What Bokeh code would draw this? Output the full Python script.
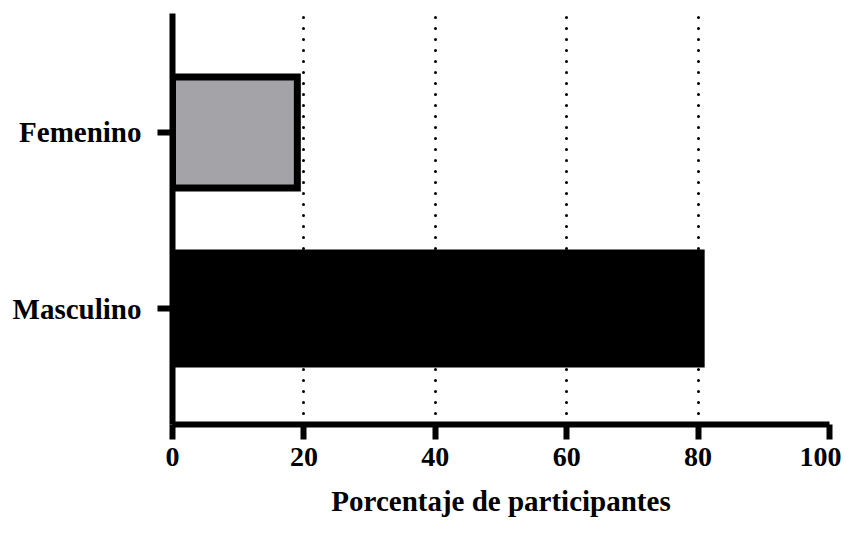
from bokeh.plotting import figure
from bokeh.models import FixedTicker, Range1d
from bokeh.embed import file_html
from bokeh.resources import INLINE

categories = ["Masculino", "Femenino"]
values = [81, 19]
x_ticks = [0, 20, 40, 60, 80, 100]
grid_ticks = [20, 40, 60, 80]
x_label = "Porcentaje de participantes"

FONT = "Liberation Serif"
W, H = 841, 520

p = figure(width=W, height=H, output_backend="svg", toolbar_location=None,
           x_range=Range1d(0, 100), y_range=Range1d(-0.659, 1.676),
           min_border_left=172, min_border_right=12, min_border_top=13,
           min_border_bottom=96)
p.outline_line_color = None
p.background_fill_color = "white"
p.border_fill_color = "white"

ypos = list(range(len(categories)))

# Masculino bar (black)
p.hbar(y=[ypos[0]], right=[values[0]], left=0, height=0.67,
       fill_color="black", line_color=None)
# Femenino bar (grey with thick black border)
p.hbar(y=[ypos[1]], right=[values[1]], left=0, height=0.63,
       fill_color="#a4a3a7", line_color="black", line_width=7,
       line_join="miter")

# grid
p.ygrid.grid_line_color = None
p.xgrid.ticker = FixedTicker(ticks=grid_ticks)
p.xgrid.grid_line_color = "black"
p.xgrid.grid_line_width = 3
p.xgrid.grid_line_dash = "0 11"
p.xgrid.grid_line_cap = "round"

for ax in (p.xaxis[0], p.yaxis[0]):
    ax.axis_line_width = 6
    ax.major_tick_line_width = 6
    ax.major_tick_out = 15
    ax.major_tick_in = 0
    ax.minor_tick_line_color = None
    ax.major_label_text_font = FONT
    ax.major_label_text_font_style = "bold"
    ax.major_label_text_color = "black"
    ax.axis_line_cap = "butt"

p.xaxis.major_label_text_font_size = "28px"
p.yaxis.major_label_text_font_size = "29px"

p.xaxis.ticker = FixedTicker(ticks=x_ticks)
p.xaxis.major_label_standoff = 8
p.xaxis.axis_label = x_label
p.xaxis.axis_label_text_font = FONT
p.xaxis.axis_label_text_font_style = "bold"
p.xaxis.axis_label_text_font_size = "29px"
p.xaxis.axis_label_text_color = "black"
p.xaxis.axis_label_standoff = 16

p.yaxis.ticker = FixedTicker(ticks=ypos)
p.yaxis.major_label_overrides = {i: c for i, c in zip(ypos, categories)}
p.yaxis.major_label_standoff = 16

open("out.html", "w").write(file_html(p, INLINE))
